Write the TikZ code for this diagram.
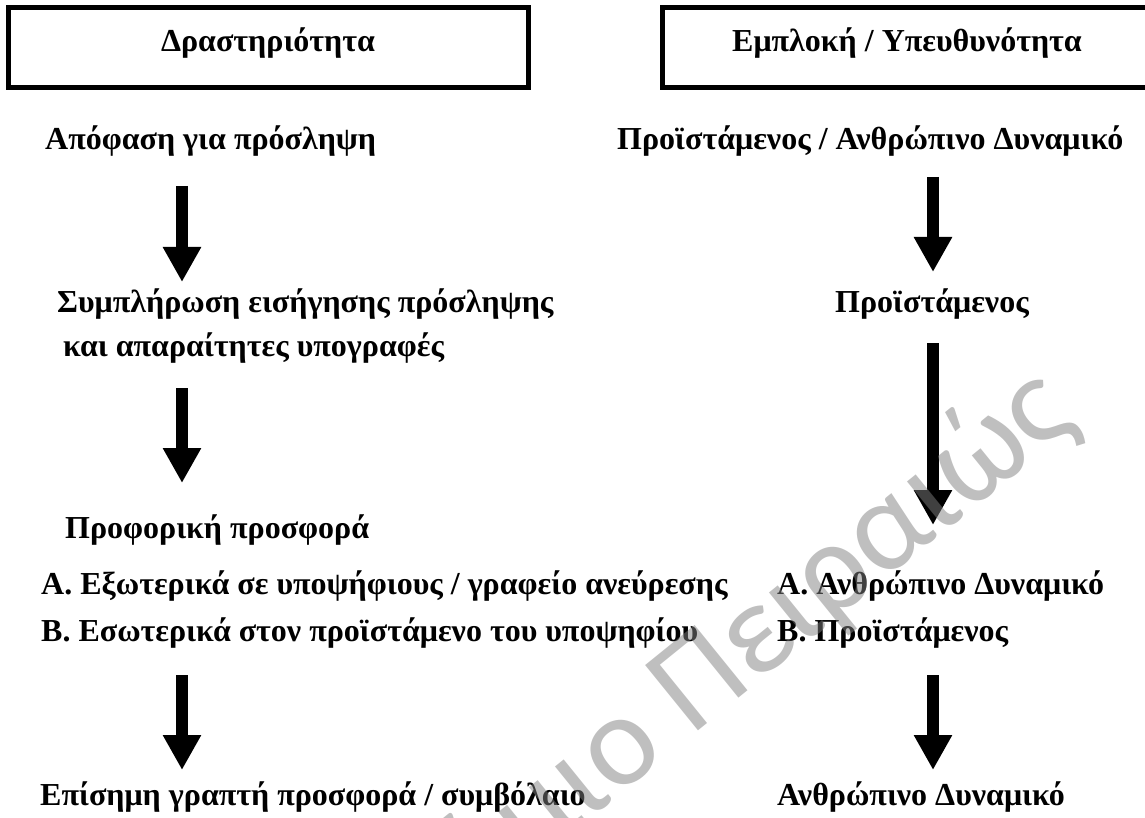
\documentclass[tikz,border=0pt]{standalone}
\usepackage{fontspec}
\setmainfont{Liberation Serif}
\newfontfamily\wmfont{Carlito}
\usetikzlibrary{arrows.meta,positioning}

\tikzset{
	txt/.style={anchor=base west, inner sep=0pt, font=\bfseries\fontsize{32}{38}\selectfont},
	hdbox/.style={draw, line width=5pt},
	bigarrow/.style={line width=12pt, -{Triangle[width=36pt,length=35pt]}},
	mark wm/.style={font=\wmfont\fontsize{131}{131}\selectfont, text=black!50, opacity=0.5, rotate=39, anchor=base east, inner sep=0pt}
}

\begin{document}
\begin{tikzpicture}[x=1pt,y=-1pt]
	\useasboundingbox (0,0) rectangle (1145,818);
	\clip (0,0) rectangle (1145,818);
	% header boxes
	\draw[hdbox] (8,8) rectangle (528,88);
	\draw[hdbox] (662,8) rectangle (1170,88);
	\node[txt,anchor=base] (act) at (268,52) {Δραστηριότητα};
	\node[txt,anchor=base] (resp) at (907,52) {Εμπλοκή / Υπευθυνότητα};
	% steps
	\node[txt] (decide) at (45,150) {Απόφαση για πρόσληψη};
	\node[txt] (mgrhr) at (617,150) {Προϊστάμενος / Ανθρώπινο Δυναμικό};
	\node[txt] (fill) at (57,312) {Συμπλήρωση εισήγησης πρόσληψης};
	\node[txt] (mgr) at (835,312) {Προϊστάμενος};
	\node[txt] (sign) at (63,356) {και απαραίτητες υπογραφές};
	\node[txt] (oral) at (65,538) {Προφορική προσφορά};
	\node[txt] (extA) at (41,594) {Α. Εξωτερικά σε υποψήφιους / γραφείο ανεύρεσης};
	\node[txt] (hrA) at (777,594) {Α. Ανθρώπινο Δυναμικό};
	\node[txt] (intB) at (41,641) {Β. Εσωτερικά στον προϊστάμενο του υποψηφίου};
	\node[txt] (mgrB) at (777,641) {Β. Προϊστάμενος};
	\node[txt] (offer) at (40,805) {Επίσημη γραπτή προσφορά / συμβόλαιο};
	\node[txt] (hr) at (777,805) {Ανθρώπινο Δυναμικό};
	% arrow ends
	\coordinate (l1s) at (182,186);
	\coordinate (l1e) at (182,282);
	\coordinate (l2s) at (182,388);
	\coordinate (l2e) at (182,483);
	\coordinate (l3s) at (182,675);
	\coordinate (l3e) at (182,770);
	\coordinate (r1s) at (933,177);
	\coordinate (r1e) at (933,272);
	\coordinate (r2s) at (933,343);
	\coordinate (r2e) at (933,525);
	\coordinate (r3s) at (933,675);
	\coordinate (r3e) at (933,770);
	\draw[bigarrow] (l1s) -- (l1e);
	\draw[bigarrow] (l2s) -- (l2e);
	\draw[bigarrow] (l3s) -- (l3e);
	\draw[bigarrow] (r1s) -- (r1e);
	\draw[bigarrow] (r2s) -- (r2e);
	\draw[bigarrow] (r3s) -- (r3e);
	% watermark
	\node[mark wm] (wm) at (1080,422) {Πανεπιστήμιο Πειραιώς};
\end{tikzpicture}
\end{document}
